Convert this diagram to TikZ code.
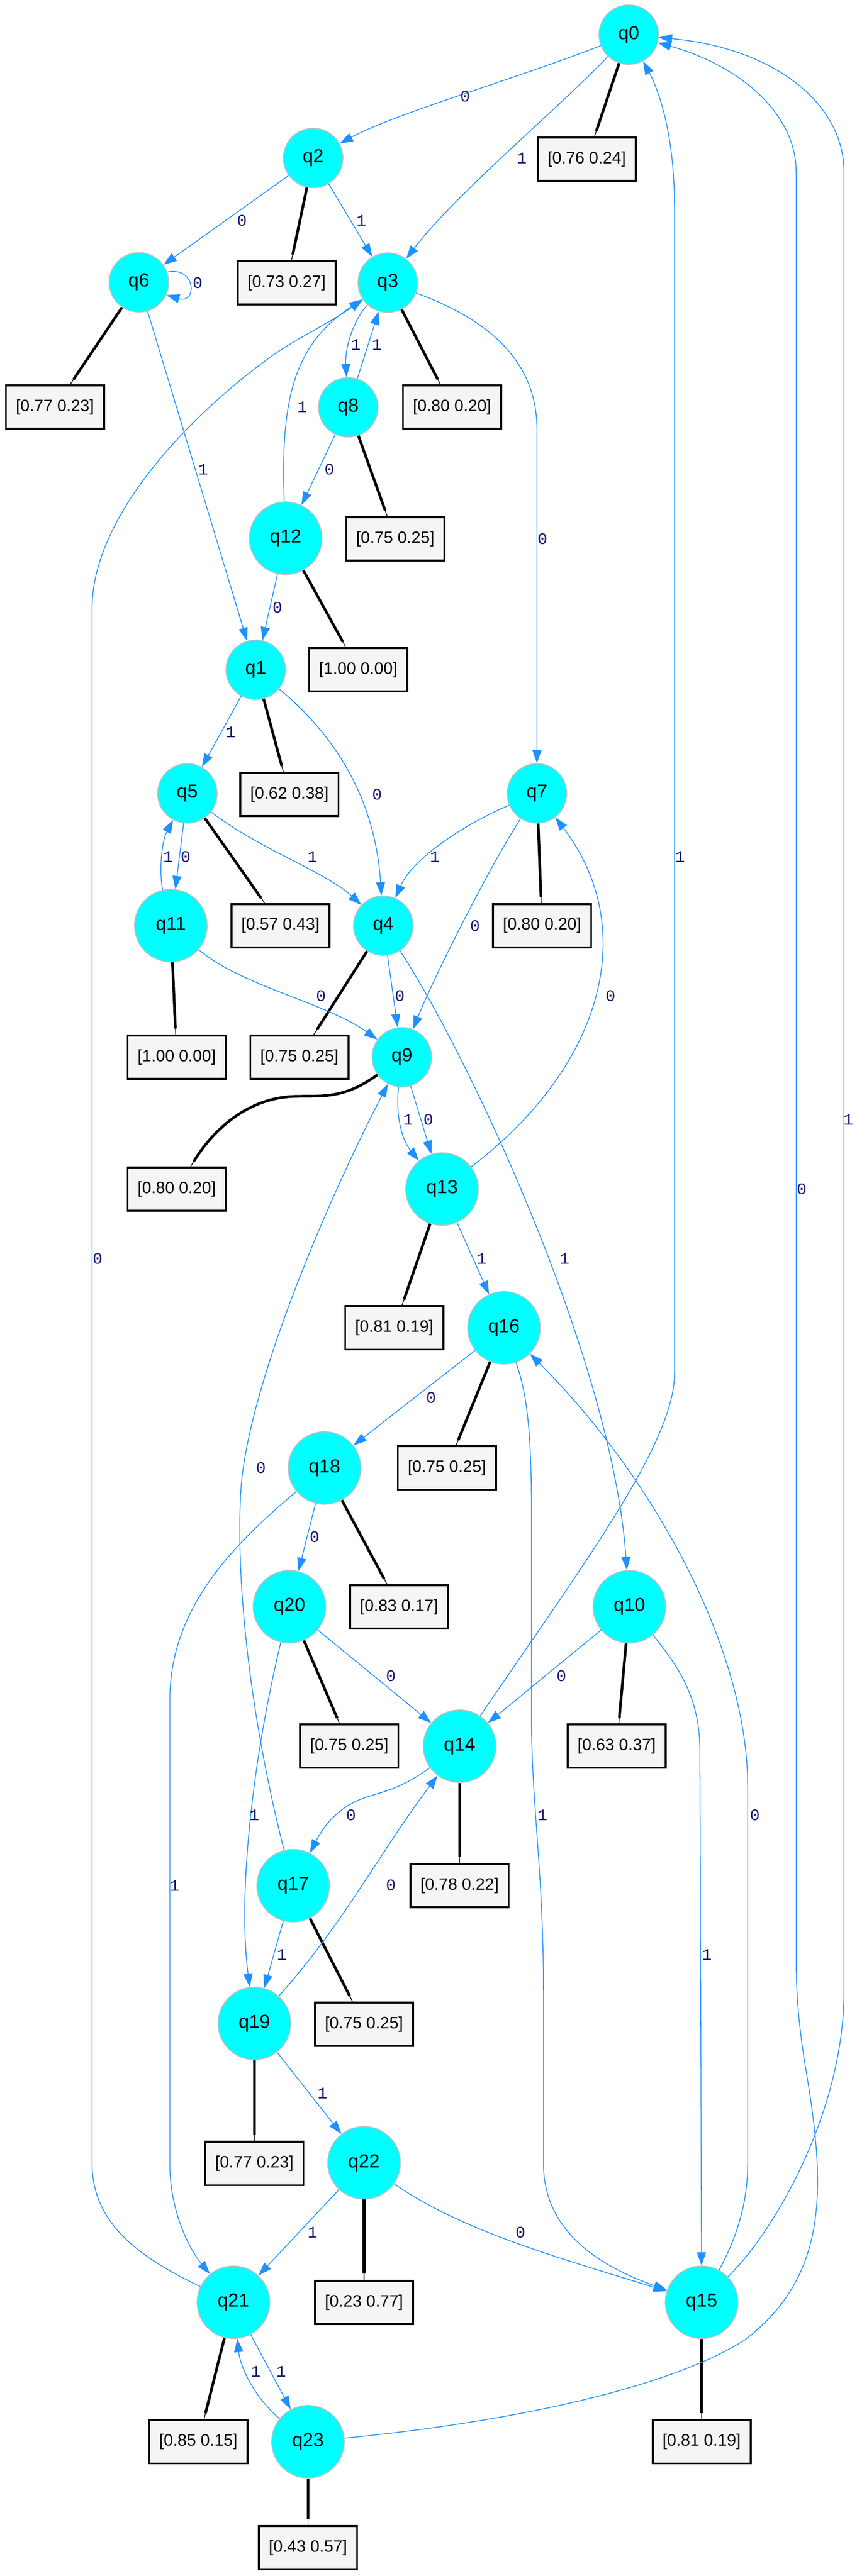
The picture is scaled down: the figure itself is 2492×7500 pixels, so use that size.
\documentclass[tikz,border=0pt]{standalone}
\usepackage{fontspec}
\newfontfamily\lsans{Liberation Sans}
\newfontfamily\lmono{Liberation Mono}
\usetikzlibrary{arrows.meta}
\definecolor{dodger}{RGB}{30,144,255}
\definecolor{ncyan}{RGB}{0,255,255}
\definecolor{ngray}{RGB}{192,192,192}
\definecolor{bfill}{RGB}{245,245,245}
\definecolor{lblue}{RGB}{25,25,112}
\begin{document}
\begin{tikzpicture}[x=0.01cm,y=-0.01cm,
  st/.style={circle,fill=ncyan,draw=ngray,line width=0.75pt,minimum size=1.73cm,inner sep=0pt,font=\lsans\fontsize{15.6}{18}\selectfont},
  stw/.style={st,minimum size=2.11cm},
  pbox/.style={rectangle,fill=bfill,draw=black,line width=1.6pt,minimum width=2.85cm,minimum height=1.26cm,inner sep=0pt,font=\lsans\fontsize{13.7}{16}\selectfont},
  tr/.style={draw=dodger,line width=0.65pt,-{Triangle[length=11pt,width=7.5pt]}},
  el/.style={font=\lmono\fontsize{13.4}{16}\selectfont,text=lblue,inner sep=0pt},
  pthick/.style={draw=black,line width=2.2pt,shorten >=5pt},
  pthin/.style={draw=black,line width=0.6pt}]
\fill[white] (0,0) rectangle (2492,7500);
\useasboundingbox (0,0) rectangle (2492,7500);
% states
\node[st] (q0) at (1829,101) {q0};
\node[st] (q2) at (911,460) {q2};
\node[st] (q6) at (404,822) {q6};
\node[st] (q3) at (1128,823) {q3};
\node[st] (q8) at (1013,1186) {q8};
\node[stw] (q12) at (831,1567) {q12};
\node[st] (q1) at (744,1950) {q1};
\node[st] (q5) at (545,2310) {q5};
\node[st] (q7) at (1562,2310) {q7};
\node[stw] (q11) at (497,2695) {q11};
\node[st] (q4) at (1115,2695) {q4};
\node[st] (q9) at (1169,3078) {q9};
\node[stw] (q13) at (1286,3462) {q13};
\node[stw] (q16) at (1466,3866) {q16};
\node[stw] (q18) at (944,4274) {q18};
\node[stw] (q20) at (842,4678) {q20};
\node[stw] (q10) at (1831,4678) {q10};
\node[stw] (q14) at (1337,5084) {q14};
\node[stw] (q17) at (853,5490) {q17};
\node[stw] (q19) at (740,5891) {q19};
\node[stw] (q22) at (1059,6297) {q22};
\node[stw] (q21) at (679,6703) {q21};
\node[stw] (q15) at (2041,6703) {q15};
\node[stw] (q23) at (896,7109) {q23};
% probability boxes
\node[pbox] (b0) at (1707,464) {[0.76 0.24]};
\node[pbox] (b2) at (834,824) {[0.73 0.27]};
\node[pbox] (b6) at (160,1185) {[0.77 0.23]};
\node[pbox] (b3) at (1315,1185) {[0.80 0.20]};
\node[pbox] (b8) at (1150,1569) {[0.75 0.25]};
\node[pbox] (b12) at (1042,1950) {[1.00 0.00]};
\node[pbox] (b1) at (842,2313) {[0.62 0.38]};
\node[pbox] (b5) at (816,2695) {[0.57 0.43]};
\node[pbox] (b7) at (1577,2695) {[0.80 0.20]};
\node[pbox] (b11) at (514,3078) {[1.00 0.00]};
\node[pbox] (b4) at (871,3078) {[0.75 0.25]};
\node[pbox] (b9) at (514,3462) {[0.80 0.20]};
\node[pbox] (b13) at (1147,3866) {[0.81 0.19]};
\node[pbox] (b16) at (1300,4274) {[0.75 0.25]};
\node[pbox] (b18) at (1161,4678) {[0.83 0.17]};
\node[pbox] (b20) at (1016,5084) {[0.75 0.25]};
\node[pbox] (b10) at (1794,5084) {[0.63 0.37]};
\node[pbox] (b14) at (1337,5490) {[0.78 0.22]};
\node[pbox] (b17) at (1059,5893) {[0.75 0.25]};
\node[pbox] (b19) at (740,6299) {[0.77 0.23]};
\node[pbox] (b22) at (1059,6703) {[0.23 0.77]};
\node[pbox] (b21) at (577,7109) {[0.85 0.15]};
\node[pbox] (b15) at (2041,7109) {[0.81 0.19]};
\node[pbox] (b23) at (896,7418) {[0.43 0.57]};
% state-to-box links
\foreach \a/\b in {q0/b0,q2/b2,q6/b6,q3/b3,q8/b8,q12/b12,q1/b1,q5/b5,q7/b7,q11/b11,q4/b4,q13/b13,q16/b16,q18/b18,q20/b20,q10/b10,q14/b14,q17/b17,q19/b19,q22/b22,q21/b21,q15/b15,q23/b23}{
  \draw[pthin] (\a) -- (\b);
  \draw[pthick] (\a) -- (\b);
}
\draw[pthin] (q9) .. controls (1000,3200) and (940,3190) .. (860,3192) .. controls (720,3195) and (620,3290) .. (b9);
\draw[pthick] (q9) .. controls (1000,3200) and (940,3190) .. (860,3192) .. controls (720,3195) and (620,3290) .. (b9);
% transitions
\draw[tr] (q0) .. controls (1500,230) and (1150,330) .. (q2) node[el] at (1353,281) {0};
\draw[tr] (q0) .. controls (1620,320) and (1330,560) .. (q3) node[el] at (1518,460) {1};
\draw[tr] (q2) -- (q6) node[el] at (704,642) {0};
\draw[tr] (q2) -- (q3) node[el] at (1051,642) {1};
\draw[tr] (q6.20) .. controls (570,775) and (575,885) .. (q6.-25) node[el] at (575,824) {0};
\draw[tr] (q6) -- (q1) node[el] at (591,1366) {1};
\draw[tr] (q3) .. controls (1030,930) and (1003,1010) .. (q8) node[el] at (1035,1003) {1};
\draw[tr] (q8) -- (q3) node[el] at (1096,1003) {1};
\draw[tr] (q3) .. controls (1420,930) and (1562,1050) .. (1562,1250) -- (q7) node[el] at (1578,1569) {0};
\draw[tr] (q8) -- (q12) node[el] at (958,1366) {0};
\draw[tr] (q12) .. controls (815,1150) and (860,1000) .. (q3) node[el] at (879,1185) {1};
\draw[tr] (q12) -- (q1) node[el] at (807,1769) {0};
\draw[tr] (q21) .. controls (400,6570) and (268,6470) .. (268,6300) -- (268,1770) .. controls (268,1500) and (560,1200) .. (800,1030) .. controls (860,988) and (950,945) .. (q3) node[el] at (284,3665) {0};
\draw[tr] (q14) .. controls (1700,4550) and (1962,4200) .. (1962,4000) -- (1962,600) .. controls (1962,400) and (1920,270) .. (q0) node[el] at (1978,2495) {1};
\draw[tr] (q23) .. controls (1500,7050) and (1950,6950) .. (2166,6813) .. controls (2420,6620) and (2400,6350) .. (2340,6000) .. controls (2322,5880) and (2316,5800) .. (2316,5700) -- (2316,500) .. controls (2316,330) and (2150,190) .. (q0) node[el] at (2332,3462) {0};
\draw[tr] (q15) .. controls (2250,6500) and (2455,6150) .. (2455,5800) -- (2455,500) .. controls (2455,300) and (2250,140) .. (q0) node[el] at (2468,3260) {1};
\draw[tr] (q1) -- (q5) node[el] at (671,2132) {1};
\draw[tr] (q1) .. controls (950,2120) and (1090,2300) .. (q4) node[el] at (1097,2313) {0};
\draw[tr] (q5) -- (q11) node[el] at (540,2495) {0};
\draw[tr] (q11) .. controls (462,2540) and (470,2450) .. (q5) node[el] at (489,2495) {1};
\draw[tr] (q5) .. controls (750,2470) and (950,2540) .. (q4) node[el] at (909,2495) {1};
\draw[tr] (q7) .. controls (1350,2400) and (1200,2500) .. (q4) node[el] at (1265,2495) {1};
\draw[tr] (q7) .. controls (1420,2530) and (1260,2850) .. (q9) node[el] at (1382,2695) {0};
\draw[tr] (q11) .. controls (700,2870) and (950,2920) .. (q9) node[el] at (934,2900) {0};
\draw[tr] (q4) -- (q9) node[el] at (1163,2900) {0};
\draw[tr] (q4) .. controls (1350,3050) and (1780,3950) .. (q10) node[el] at (1642,3665) {1};
\draw[tr] (q9) .. controls (1150,3250) and (1170,3320) .. (q13) node[el] at (1187,3260) {1};
\draw[tr] (q9) -- (q13) node[el] at (1246,3260) {0};
\draw[tr] (q13) .. controls (1760,3100) and (1860,2700) .. (q7) node[el] at (1776,2900) {0};
\draw[tr] (q13) -- (q16) node[el] at (1401,3665) {1};
\draw[tr] (q17) .. controls (740,5050) and (685,4650) .. (700,4350) .. controls (715,4050) and (950,3500) .. (q9) node[el] at (759,4274) {0};
\draw[tr] (q16) -- (q18) node[el] at (1254,4070) {0};
\draw[tr] (q16) .. controls (1530,4050) and (1546,4150) .. (1546,4400) -- (1546,5000) .. controls (1546,5250) and (1581,5450) .. (1581,5800) -- (1581,6300) .. controls (1581,6500) and (1750,6600) .. (q15) node[el] at (1578,5285) {1};
\draw[tr] (q15) .. controls (2140,6520) and (2175,6420) .. (2175,6300) -- (2175,5200) .. controls (2175,4800) and (1900,4300) .. (q16) node[el] at (2196,5285) {0};
\draw[tr] (q18) -- (q20) node[el] at (915,4474) {0};
\draw[tr] (q18) .. controls (650,4520) and (494,4700) .. (494,4950) -- (494,6300) .. controls (494,6450) and (560,6560) .. (q21) node[el] at (508,5490) {1};
\draw[tr] (q20) -- (q14) node[el] at (1137,4880) {0};
\draw[tr] (q20) .. controls (740,5100) and (690,5500) .. (q19) node[el] at (740,5285) {1};
\draw[tr] (q10) -- (q14) node[el] at (1633,4880) {0};
\draw[tr] (q10) .. controls (1990,4870) and (2036,4960) .. (2036,5100) -- (q15) node[el] at (2056,5691) {1};
\draw[tr] (q14) .. controls (1170,5205) and (1120,5215) .. (1080,5228) .. controls (1000,5250) and (950,5300) .. (q17) node[el] at (1021,5285) {0};
\draw[tr] (q19) .. controls (1000,5600) and (1100,5400) .. (q14) node[el] at (1137,5488) {0};
\draw[tr] (q17) -- (q19) node[el] at (820,5691) {1};
\draw[tr] (q19) -- (q22) node[el] at (938,6094) {1};
\draw[tr] (q22) -- (q21) node[el] at (909,6500) {1};
\draw[tr] (q22) .. controls (1350,6500) and (1650,6580) .. (q15) node[el] at (1514,6500) {0};
\draw[tr] (q21) -- (q23) node[el] at (818,6905) {1};
\draw[tr] (q23) .. controls (750,6990) and (700,6900) .. (q21) node[el] at (744,6905) {1};
\end{tikzpicture}
\end{document}
